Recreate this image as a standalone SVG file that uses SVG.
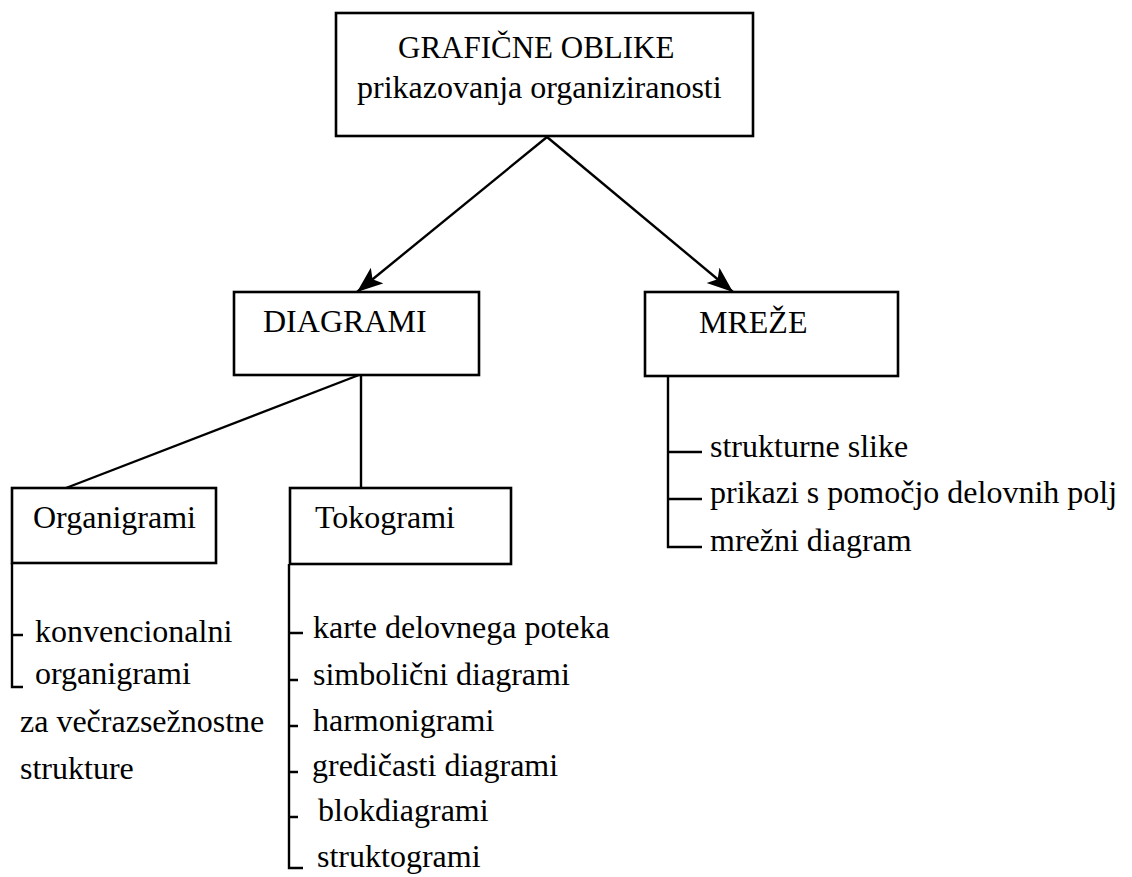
<svg xmlns="http://www.w3.org/2000/svg" width="1132" height="877" viewBox="0 0 1132 877">
<style>
.box{fill:#fff;stroke:#000;stroke-width:2.6}
.ln{fill:none;stroke:#000;stroke-width:2.4}
</style>
<defs>
<marker id="arr" markerUnits="userSpaceOnUse" markerWidth="30" markerHeight="22" refX="26" refY="10" orient="auto">
<path d="M0,0 L26,10 L0,20 L6,10 Z" fill="#000"/>
</marker>
</defs>
<rect width="1132" height="877" fill="#fff"/>
<g id="connectors">
<line class="ln" x1="547" y1="137" x2="357" y2="292" marker-end="url(#arr)"/>
<line class="ln" x1="547" y1="137" x2="733" y2="292" marker-end="url(#arr)"/>
<line class="ln" x1="359" y1="375" x2="66" y2="488"/>
<line class="ln" x1="361" y1="375" x2="361" y2="488"/>
<path class="ln" d="M668,376 V547 H702 M668,452 H702 M668,499 H702"/>
<path class="ln" d="M12,563 V687 H23 M12,635 H23"/>
<path class="ln" d="M289,564 V868 H303 M289,633 H303 M289,680 H298 M289,726 H298 M289,772 H298 M289,817 H298"/>
</g>
<g font-family="Liberation Serif, Times New Roman, serif" font-size="32" fill="#000">
<g id="n-grafika">
<rect class="box" x="336" y="13" width="417" height="123"/>
<text x="398" y="58" font-size="31">GRAFIČNE OBLIKE</text>
<text x="357" y="98">prikazovanja organiziranosti</text>
</g>
<g id="n-diagrami">
<rect class="box" x="234" y="292" width="245" height="83"/>
<text x="263" y="332">DIAGRAMI</text>
</g>
<g id="n-mreze">
<rect class="box" x="645" y="292" width="253" height="84"/>
<text x="699" y="333">MREŽE</text>
</g>
<g id="n-organigrami">
<rect class="box" x="12" y="488" width="204" height="75"/>
<text x="33" y="528">Organigrami</text>
</g>
<g id="n-tokogrami">
<rect class="box" x="290" y="488" width="221" height="76"/>
<text x="315" y="528">Tokogrami</text>
</g>
<g id="mreze-items">
<text x="710" y="457">strukturne slike</text>
<text x="710" y="503">prikazi s pomočjo delovnih polj</text>
<text x="710" y="551">mrežni diagram</text>
</g>
<g id="organigrami-items">
<text x="35" y="642">konvencionalni</text>
<text x="35" y="684">organigrami</text>
<text x="20" y="732">za večrazsežnostne</text>
<text x="20" y="779">strukture</text>
</g>
<g id="tokogrami-items">
<text x="313" y="638">karte delovnega poteka</text>
<text x="313" y="685">simbolični diagrami</text>
<text x="313" y="731">harmonigrami</text>
<text x="312" y="776">gredičasti diagrami</text>
<text x="318" y="821">blokdiagrami</text>
<text x="317" y="867">struktogrami</text>
</g>
</g>
</svg>
